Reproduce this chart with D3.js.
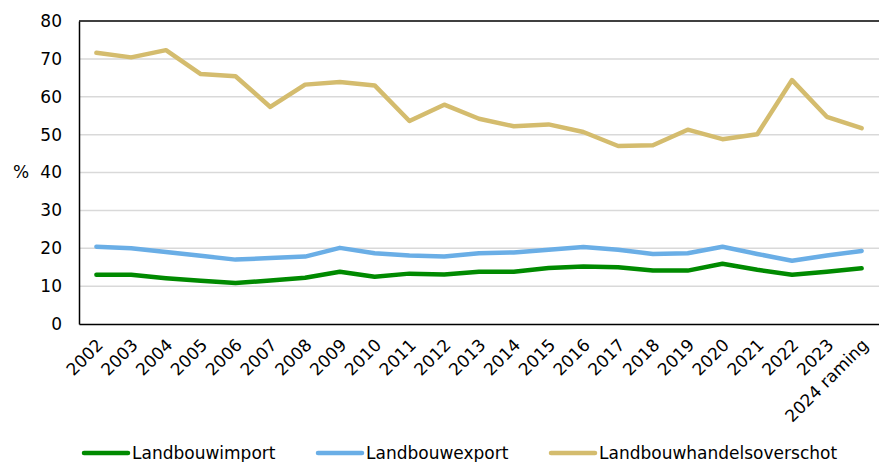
<!DOCTYPE html>
<meta charset="utf-8">
<script src="https://d3js.org/d3.v7.min.js"></script>
<style>
  body { margin: 0; background: #fff; }
  text { font-family: "DejaVu Sans", Verdana, sans-serif; fill: #000; }
</style>
<body>
<div id="chart"></div>
<script>
var years = ["2002", "2003", "2004", "2005", "2006", "2007", "2008", "2009", "2010", "2011", "2012",
             "2013", "2014", "2015", "2016", "2017", "2018", "2019", "2020", "2021", "2022", "2023", "2024 raming"]
var importVals = [13.0, 13.0, 12.1, 11.4, 10.8, 11.5, 12.2, 13.8, 12.5, 13.3, 13.1,
                  13.8, 13.8, 14.8, 15.2, 15.0, 14.1, 14.1, 15.9, 14.3, 13.0, 13.8, 14.7]
var exportVals = [20.4, 20.0, 19.0, 18.0, 17.0, 17.4, 17.8, 20.1, 18.7, 18.1, 17.8,
                  18.7, 18.9, 19.6, 20.3, 19.6, 18.5, 18.7, 20.4, 18.5, 16.7, 18.1, 19.3]
var surplusVals = [71.6, 70.4, 72.3, 66.0, 65.4, 57.3, 63.2, 63.9, 63.0, 53.6, 57.9,
                   54.2, 52.2, 52.7, 50.7, 47.0, 47.2, 51.3, 48.8, 50.1, 64.4, 54.7, 51.7]
var seriesNames = ["Landbouwimport", "Landbouwexport", "Landbouwhandelsoverschot"]
var seriesColors = ["#008a00", "#6aaee6", "#d4bc6e"]
var yTicks = [0, 10, 20, 30, 40, 50, 60, 70, 80]

var W = 879, H = 462
var margin = {top: 21, right: 0, bottom: 138, left: 79}
var width = W - margin.left - margin.right
var height = H - margin.top - margin.bottom
var fontSize = "17px"

var svg = d3.select("#chart").append("svg")
  .attr("width", W).attr("height", H)
var g = svg.append("g")
  .attr("transform", "translate(" + margin.left + "," + margin.top + ")")

var xScale = d3.scalePoint().domain(years).range([0, width]).padding(0.5)
var yScale = d3.scaleLinear().domain([0, 80]).range([height, 0])

// gridlines
g.append("g").selectAll("line")
  .data(yTicks.filter(function(d) { return d > 0 && d < 80 }))
  .enter().append("line")
  .attr("x1", 0).attr("x2", width)
  .attr("y1", function(d) { return yScale(d) }).attr("y2", function(d) { return yScale(d) })
  .attr("stroke", "#d9d9d9").attr("stroke-width", 1.5)

// top border
g.append("line").attr("x1", 0).attr("x2", width)
  .attr("y1", yScale(80)).attr("y2", yScale(80))
  .attr("stroke", "#000").attr("stroke-width", 1.5)

// y axis
var yAxis = g.append("g")
  .call(d3.axisLeft(yScale).tickValues(yTicks).tickSize(0).tickPadding(17))
yAxis.select(".domain").attr("stroke", "#000").attr("stroke-width", 1.5)
yAxis.selectAll("text").style("font-size", fontSize)

// x axis
var xAxis = g.append("g")
  .attr("transform", "translate(0," + height + ")")
  .call(d3.axisBottom(xScale).tickSize(0))
xAxis.select(".domain").attr("stroke", "#000").attr("stroke-width", 1.5)
xAxis.selectAll("text")
  .style("font-size", fontSize)
  .attr("text-anchor", "end")
  .attr("dy", "0.35em")
  .attr("transform", "translate(3,18) rotate(-45)")
  .attr("y", 0).attr("x", 0)

// % label
svg.append("text")
  .attr("x", 21).attr("y", yScale(40) + margin.top)
  .attr("dy", "0.35em")
  .attr("text-anchor", "middle")
  .style("font-size", fontSize)
  .text("%")

// lines
var allSeries = [importVals, exportVals, surplusVals]
var line = d3.line()
  .x(function(d, i) { return xScale(years[i]) })
  .y(function(d) { return yScale(d) })

for (var i = allSeries.length - 1; i >= 0; i--) {
  g.append("path")
    .datum(allSeries[i])
    .attr("fill", "none")
    .attr("stroke", seriesColors[i])
    .attr("stroke-width", 4.5)
    .attr("stroke-linejoin", "round")
    .attr("stroke-linecap", "round")
    .attr("d", line)
}

// legend
var legendX = [84, 318, 551]
for (var i = 0; i < seriesNames.length; i++) {
  svg.append("line")
    .attr("x1", legendX[i]).attr("x2", legendX[i] + 44)
    .attr("y1", 453).attr("y2", 453)
    .attr("stroke", seriesColors[i]).attr("stroke-width", 4.5)
    .attr("stroke-linecap", "round")
  svg.append("text")
    .attr("x", legendX[i] + 48).attr("y", 453)
    .attr("dy", "0.35em")
    .style("font-size", fontSize)
    .text(seriesNames[i])
}
</script>
</body>
